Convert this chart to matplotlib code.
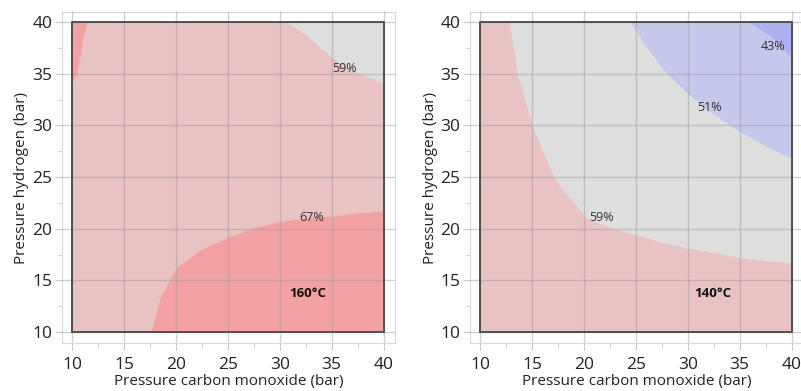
import matplotlib
matplotlib.use("Agg")
import matplotlib.pyplot as plt

plt.rcParams['font.family'] = ['Open Sans', 'DejaVu Sans']

# colours of the contour bands
c_red = "#f4a1a3"
c_pink = "#e9c2c4"
c_gray = "#dedede"
c_lblue = "#c6c8eb"
c_blue = "#abb1f1"

ticks = [10, 15, 20, 25, 30, 35, 40]

# ---- 160 C panel ----
# dark red wedge top-left (x as function of y)
l_red_top_y = [34.2, 35.0, 36.5, 38.0, 40.0]
l_red_top_x = [10.0, 10.45, 10.75, 10.95, 11.45]
# gray corner top-right
l_gray_x = [30.7, 32.7, 35.0, 37.0, 40.0]
l_gray_y = [40.0, 38.6, 36.6, 35.3, 34.1]
# dark red region bottom-right
l_red_x = [17.6, 18.5, 20.1, 22.6, 25.1, 27.5, 30.0, 33.0, 35.0, 37.0, 40.0]
l_red_y = [10.0, 13.4, 16.3, 18.1, 19.2, 20.1, 20.7, 21.1, 21.2, 21.5, 21.7]
l_labels = ["59%", "67%"]
l_label_x = [36.2, 33.1]
l_label_y = [35.5, 21.1]

# ---- 140 C panel ----
r_pink_x = [10.0, 12.8, 13.6, 15.0, 17.1, 18.0, 20.3, 22.9, 25.0, 27.5, 30.0, 32.5, 35.0, 37.5, 40.0]
r_pink_y = [40.0, 40.0, 35.0, 30.0, 25.0, 23.7, 21.0, 20.0, 19.4, 18.7, 18.1, 17.7, 17.2, 16.9, 16.7]
r_lblue_x = [24.5, 25.0, 26.1, 28.0, 30.0, 31.7, 34.1, 35.0, 37.5, 40.0]
r_lblue_y = [40.0, 39.1, 37.45, 35.0, 33.1, 31.65, 30.0, 29.4, 28.0, 26.8]
r_blue_x = [35.9, 37.0, 38.0, 39.0, 40.0]
r_blue_y = [40.0, 39.3, 38.6, 37.6, 36.5]
r_labels = ["43%", "51%", "59%"]
r_label_x = [38.2, 32.1, 21.7]
r_label_y = [37.6, 31.7, 21.1]

fig = plt.figure(figsize=(8.01, 3.91), dpi=100)
ax1 = fig.add_axes([62 / 801, 48 / 391, 333 / 801, 331 / 391])
ax2 = fig.add_axes([470 / 801, 48 / 391, 333 / 801, 331 / 391])


def style(ax):
    ax.set_xlim(9.03, 41.1)
    ax.set_ylim(8.94, 40.97)
    ax.set_xticks(ticks)
    ax.set_yticks(ticks)
    ax.set_xticks([12.5, 17.5, 22.5, 27.5, 32.5, 37.5], minor=True)
    ax.set_yticks([12.5, 17.5, 22.5, 27.5, 32.5, 37.5], minor=True)
    ax.tick_params(which="major", length=5, color="#c8c8c8", labelsize=12.5, labelcolor="#222222", pad=2)
    ax.tick_params(axis="x", which="major", pad=5)
    ax.tick_params(which="minor", length=3, color="#c8c8c8")
    for s in ax.spines.values():
        s.set_color("#d8d8d8")
    for t in ticks:
        ax.axvline(t, color="#9a9a9a", lw=1, alpha=0.45, zorder=3)
        ax.axhline(t, color="#9a9a9a", lw=1, alpha=0.45, zorder=3)
    ax.plot([10, 40, 40, 10, 10], [10, 10, 40, 40, 10], color="#505050", lw=1.4, zorder=4)
    ax.set_xlabel("Pressure carbon monoxide (bar)", fontsize=11, color="#222222", labelpad=1)
    ax.set_ylabel("Pressure hydrogen (bar)", fontsize=11, color="#222222", labelpad=2)


# left panel
ax1.fill_between([10, 40], 10, 40, color=c_pink, lw=0, zorder=1)
ax1.fill_betweenx(l_red_top_y, 10, l_red_top_x, color=c_red, lw=0, zorder=2)
ax1.fill_between(l_gray_x, l_gray_y, 40, color=c_gray, lw=0, zorder=2)
ax1.fill_between(l_red_x, 10, l_red_y, color=c_red, lw=0, zorder=2)
for s, x, y in zip(l_labels, l_label_x, l_label_y):
    ax1.text(x, y, s, fontsize=9, color="#333333", ha="center", va="center", zorder=5)
ax1.text(32.7, 13.7, "160°C", fontsize=9.5, fontweight="bold", color="#111111",
         ha="center", va="center", zorder=5)
style(ax1)

# right panel
ax2.fill_between([10, 40], 10, 40, color=c_gray, lw=0, zorder=1)
ax2.fill_between(r_pink_x, 10, r_pink_y, color=c_pink, lw=0, zorder=2)
ax2.fill_between(r_lblue_x, r_lblue_y, 40, color=c_lblue, lw=0, zorder=2)
ax2.fill_between(r_blue_x, r_blue_y, 40, color=c_blue, lw=0, zorder=2)
for s, x, y in zip(r_labels, r_label_x, r_label_y):
    ax2.text(x, y, s, fontsize=9, color="#333333", ha="center", va="center", zorder=5)
ax2.text(32.4, 13.7, "140°C", fontsize=9.5, fontweight="bold", color="#111111",
         ha="center", va="center", zorder=5)
style(ax2)

fig.savefig("out.png", dpi=100)
